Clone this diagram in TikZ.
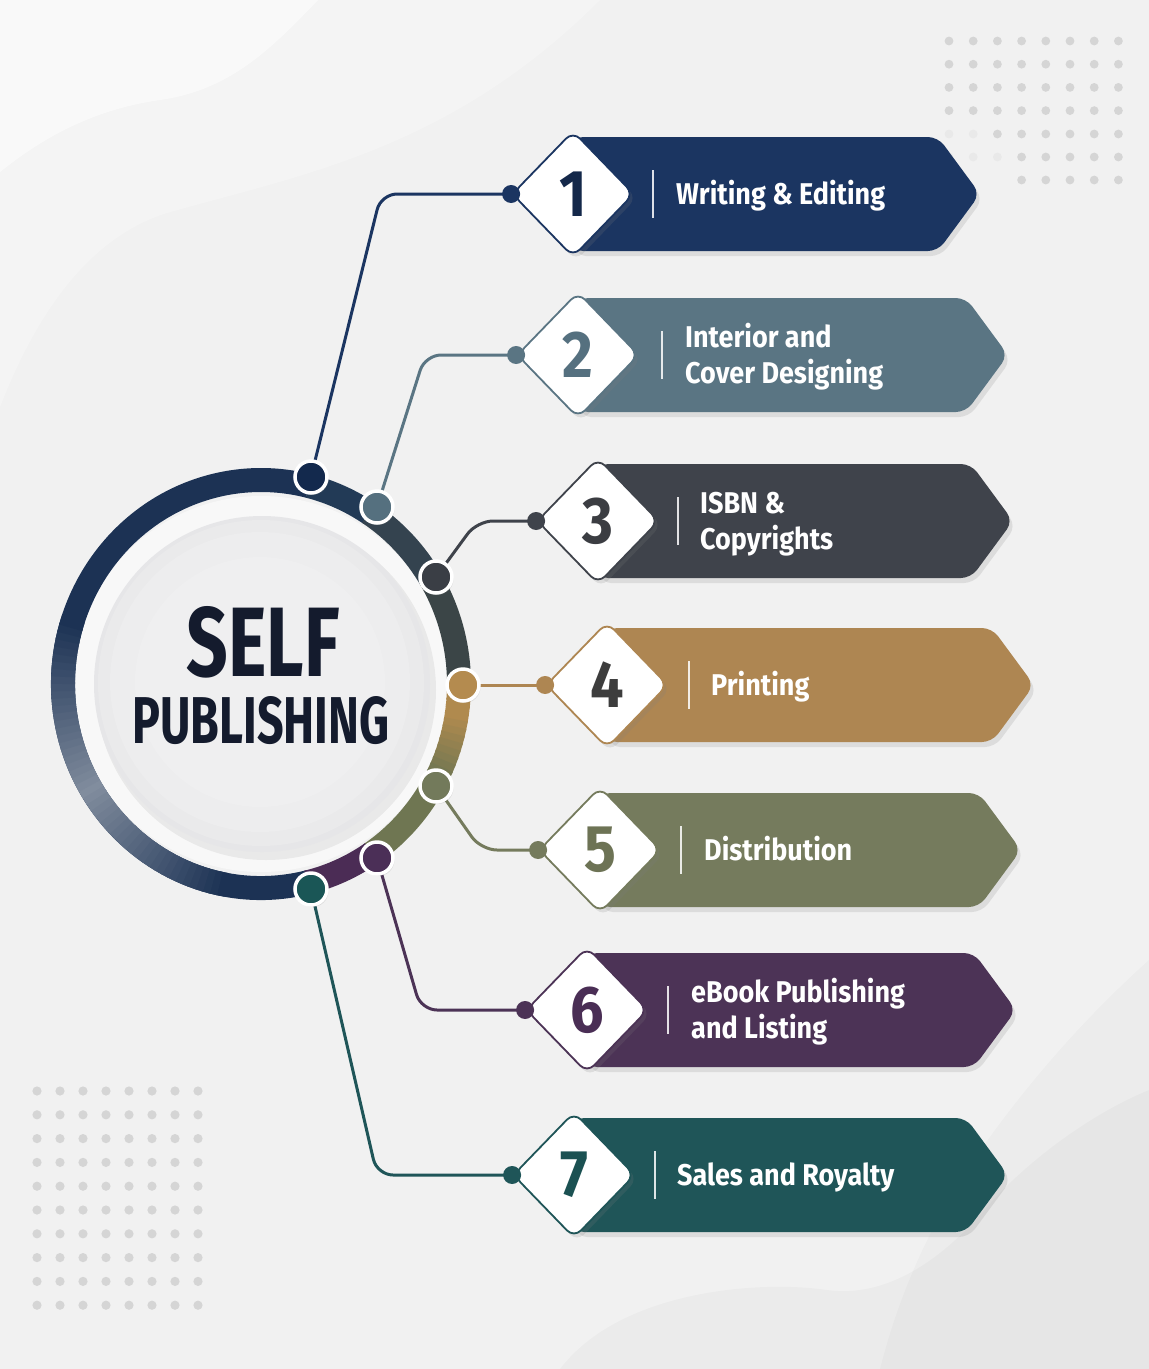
\documentclass[tikz,border=0pt]{standalone}
\usepackage{fontspec}
\setmainfont{Fira Sans}
\usetikzlibrary{shapes.geometric,shadows,calc}
\definecolor{bgc}{HTML}{F1F1F1}
\definecolor{dotc}{HTML}{D5D5D5}
\definecolor{dotf}{HTML}{E9E9E9}
\definecolor{titlec}{HTML}{141B2D}
\definecolor{rnavy}{HTML}{1C3254}
\definecolor{ringlight}{HTML}{9AA3B0}
\definecolor{rs12}{HTML}{223A56}
\definecolor{rs23}{HTML}{34434F}
\definecolor{rs34}{HTML}{3B4547}
\definecolor{rgold}{HTML}{B08A4E}
\definecolor{rolive}{HTML}{6F7652}
\definecolor{rpurp}{HTML}{4B2C55}
\definecolor{dk1}{HTML}{E6E6E8}
\definecolor{dk2}{HTML}{EAEAEB}
\definecolor{dk3}{HTML}{EDEDEE}
\definecolor{dk4}{HTML}{EFEFF0}
% banner colours
\definecolor{b1}{HTML}{1B3561}
\definecolor{b2}{HTML}{5A7583}
\definecolor{b3}{HTML}{3F434B}
\definecolor{b4}{HTML}{AE8652}
\definecolor{b5}{HTML}{757B5D}
\definecolor{b6}{HTML}{4C3356}
\definecolor{b7}{HTML}{1F5558}
% number colours
\definecolor{n1}{HTML}{14284A}
\definecolor{n2}{HTML}{55707F}
\definecolor{n3}{HTML}{3B3D42}
\definecolor{n4}{HTML}{3D3D3D}
\definecolor{n5}{HTML}{6D7355}
\definecolor{n6}{HTML}{4A2E55}
\definecolor{n7}{HTML}{1B5152}
% ring node colours
\definecolor{r1c}{HTML}{13294D}
\definecolor{r2c}{HTML}{55707F}
\definecolor{r3c}{HTML}{3A3E45}
\definecolor{r4c}{HTML}{B48B4F}
\definecolor{r5c}{HTML}{737A5B}
\definecolor{r6c}{HTML}{4B2F57}
\definecolor{r7c}{HTML}{1A5656}
\pgfdeclarelayer{back}
\pgfdeclarelayer{mid}
\pgfsetlayers{back,mid,main}
\tikzset{
  ringnode/.style={circle, minimum size=32pt, inner sep=0pt, draw=white, line width=3.5pt,
    drop shadow={opacity=0.2, shadow xshift=1.5pt, shadow yshift=-2pt}},
  connline/.style={line width=3pt, rounded corners=16pt},
  diam/.style={diamond, aspect=1, minimum width=122pt, minimum height=126pt, inner sep=0pt,
    rounded corners=10pt, fill=white, line width=1.8pt, font=\fontsize{66}{66}\selectfont\bfseries,
    drop shadow={opacity=0.18, shadow xshift=3pt, shadow yshift=-4pt}},
  pdot/.style={circle, minimum size=18pt, inner sep=0pt},
  lab/.style={anchor=west, inner sep=0pt, text=white, yshift=-3pt,
    font=\fontsize{30}{36}\selectfont\bfseries},
  banner/.style={rounded corners=10pt, drop shadow={opacity=0.18, shadow xshift=3pt, shadow yshift=-5pt}},
  titletext/.style={inner sep=0pt, text=titlec, font=\bfseries}
}
\newcommand\rarc[3]{\draw[line width=24pt,#3] ($(rc)+({198*cos(#1)},{204*sin(#1)})$) arc[start angle=#1,end angle=#2,x radius=198,y radius=204];}
\newcommand\bannerstep[8]{%
  \fill[banner, fill=b#5] (#2,#3-57) -- (#4-42,#3-57) -- (#4,#3) -- (#4-42,#3+57) -- (#2,#3+57) -- cycle;
  \draw[white, opacity=0.85, line width=1.3pt] (#6,#3-24) -- (#6,#3+24);
  \node[lab] (l#1) at (#7,#3) {\scalebox{0.9}[1]{\begin{tabular}{@{}l@{}}#8\end{tabular}}};
  \node[diam, draw=b#5, text=n#5] (d#1) at (#2,#3) {\scalebox{0.9}[1]{#1}};
  \node[pdot, fill=b#5] (p#1) at (d#1.west) {};
}
\begin{document}
\begin{tikzpicture}[x=1pt,y=-1pt]
\useasboundingbox (0,0) rectangle (1149,1369);
\begin{pgfonlayer}{back}
  \fill[bgc] (0,0) rectangle (1149,1369);
  % background waves
  \fill[white, opacity=0.25] (0,407) .. controls (30,330) and (80,240) .. (167,213) .. controls (300,175) and (450,150) .. (600,0) -- (0,0) -- cycle;
  \fill[white, opacity=0.5] (0,172) .. controls (40,140) and (90,110) .. (160,100) .. controls (230,90) and (270,50) .. (318,0) -- (0,0) -- cycle;
  \fill[black, opacity=0.025] (560,1369) .. controls (620,1290) and (760,1280) .. (827,1290) .. controls (900,1300) and (960,1240) .. (993,1200) .. controls (1040,1150) and (1100,1110) .. (1149,1090) -- (1149,1369) -- cycle;
  \fill[black, opacity=0.02] (1149,960) .. controls (1060,1040) and (1000,1120) .. (960,1180) .. controls (930,1230) and (900,1290) .. (880,1369) -- (1149,1369) -- cycle;
  % dot grids
  \foreach \i in {0,...,7} {
    \foreach \j in {0,...,9} {
      \fill[dotc] ({37+23*\i},{1091+23.8*\j}) circle (4.6);
    }
  }
  \foreach \i in {0,...,7} {
    \foreach \j in {0,...,3} {
      \fill[dotc] ({949+24.2*\i},{41+23.2*\j}) circle (4.4);
    }
  }
  \foreach \i in {2,...,7} {\fill[dotc] ({949+24.2*\i},134) circle (4.4);}
  \foreach \i in {0,1} {\fill[dotf] ({949+24.2*\i},134) circle (4.4);}
  \foreach \i in {3,...,7} {\fill[dotc] ({949+24.2*\i},157) circle (4.4);}
  \foreach \i in {0,1,2} {\fill[dotf] ({949+24.2*\i},157) circle (4.4);}
  \foreach \i in {3,...,7} {\fill[dotc] ({949+24.2*\i},180) circle (4.4);}
  % ring
  \coordinate (rc) at (261,684);
  \fill[white, opacity=0.5] (rc) circle (188);
  \rarc{76}{284}{rnavy}
  \foreach \a in {100,102,...,196} {
    \pgfmathsetmacro\m{max(0,min(100,(1-abs(\a-148)/48)*80))}
    \colorlet{tmpc}{ringlight!\m!rnavy}
    \rarc{\a}{\a+2.6}{tmpc}
  }
  \rarc{284}{303.5}{rs12}
  \rarc{303}{329.5}{rs23}
  \rarc{329}{360.5}{rs34}
  \foreach \a in {0,2,...,28} {
    \pgfmathsetmacro\m{max(0,min(100,(\a-8)*100/18))}
    \colorlet{tmpc}{rolive!\m!rgold}
    \rarc{\a}{\a+2.6}{tmpc}
  }
  \rarc{30}{56.5}{rolive}
  \rarc{56}{76.5}{rpurp}
  % inner disk
  \fill[black, opacity=0.06] (266,690) circle (170);
  \fill[dk1] (262,684) circle (168);
  \fill[dk2] (261,683) circle (163);
  \fill[dk3] (260,682) circle (150);
  \fill[dk4] (260,682) circle (125);
\end{pgfonlayer}
% title
\node[titletext] (t1) at (263,642) {\resizebox{153pt}{70pt}{SELF}};
\node[titletext] (t2) at (261,721) {\resizebox{257pt}{47pt}{PUBLISHING}};
% ring nodes
\node[ringnode, fill=r1c] (r1) at (311,477) {};
\node[ringnode, fill=r2c] (r2) at (377,507) {};
\node[ringnode, fill=r3c] (r3) at (436,577) {};
\node[ringnode, fill=r4c] (r4) at (463,685) {};
\node[ringnode, fill=r5c] (r5) at (436,786) {};
\node[ringnode, fill=r6c] (r6) at (377,858) {};
\node[ringnode, fill=r7c] (r7) at (311,889) {};
% steps
\bannerstep{1}{573}{194}{980}{1}{653}{676}{Writing \& Editing}
\bannerstep{2}{578}{355}{1008}{2}{662}{685}{Interior and\\Cover Designing}
\bannerstep{3}{598}{521}{1013}{3}{678}{700}{ISBN \&\\Copyrights}
\bannerstep{4}{607}{685}{1034}{4}{689}{711}{Printing}
\bannerstep{5}{600}{850}{1021}{5}{681}{704}{Distribution}
\bannerstep{6}{587}{1010}{1016}{6}{668}{691}{eBook Publishing\\and Listing}
\bannerstep{7}{574}{1175}{1008}{7}{655}{677}{Sales and Royalty}
% connectors
\coordinate (k1) at (381,194);
\coordinate (k2) at (425,355);
\coordinate (k3) at (477,521);
\coordinate (k5) at (481,850);
\coordinate (k6) at (421,1010);
\coordinate (k7) at (377,1175);
\begin{pgfonlayer}{mid}
  \draw[connline, b1] (r1.center) -- (k1) -- (p1.center);
  \draw[connline, b2] (r2.center) -- (k2) -- (p2.center);
  \draw[connline, b3] (r3.center) -- (k3) -- (p3.center);
  \draw[connline, b4] (r4.center) -- (p4.center);
  \draw[connline, b5] (r5.center) -- (k5) -- (p5.center);
  \draw[connline, b6] (r6.center) -- (k6) -- (p6.center);
  \draw[connline, b7] (r7.center) -- (k7) -- (p7.center);
\end{pgfonlayer}
\end{tikzpicture}
\end{document}
